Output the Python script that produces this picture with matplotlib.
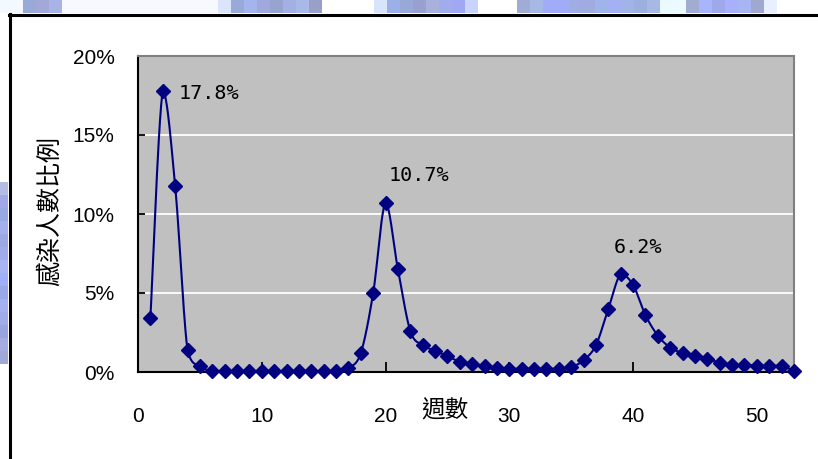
import matplotlib.pyplot as plt
import numpy as np
from matplotlib.lines import Line2D
from matplotlib.patches import Rectangle

# weekly share of infected people (%)
weeks = np.arange(1, 54)
ratio = [3.4, 17.8, 11.8, 1.4, 0.35, 0.08,
         0.05, 0.05, 0.05, 0.05, 0.05, 0.05, 0.05, 0.05, 0.05, 0.05,
         0.25, 1.2, 5.0, 10.7, 6.5, 2.6, 1.7, 1.35, 1.0, 0.65, 0.5, 0.4,
         0.25, 0.2, 0.2, 0.2, 0.2, 0.2, 0.3, 0.75, 1.7, 4.0, 6.2, 5.5,
         3.6, 2.3, 1.55, 1.2, 1.0, 0.8, 0.6, 0.45, 0.45, 0.4, 0.4, 0.4, 0.05]
peak_weeks = [2, 20, 39]
x_ticks = [0, 10, 20, 30, 40, 50]
y_ticks = [0, 5, 10, 15, 20]
x_title = "週數"
y_title = "感染人數比例"

# slide decoration strips
top_cells = (["#F4F8FF", "#9AAAD8", "#A3A8D8", "#A8B4E6"] + ["#F6FAFF"] * 12 +
             ["#DCE4FC", "#9AAAD8", "#A4B4EC", "#A0A8E0", "#98A4D0", "#A4B0E4",
              "#A8B8E8", "#98A0C8"] + ["#FFFFFF"] * 4 +
             ["#D8E4FC", "#9AB0E8", "#98A8D8", "#98A0D0", "#A8B0DC", "#A0ACEC",
              "#A0A8F4", "#C8D4FC"] + ["#FFFFFF"] * 3 +
             ["#A0ACD4", "#A8B8E4", "#A0ACF8", "#A0ACF8", "#A0ACE4", "#A0ACE0",
              "#A0B4EC", "#A4B0F4", "#A0B4E8", "#9CB0E0", "#A8B8E4", "#EAFAFF",
              "#EAFAFF", "#A0ACD0", "#A8B4FC", "#A0A8EC", "#A8B0FC", "#A8B4F4",
              "#A0A8D0", "#E8F0FF"])
left_cells = ["#B4BCE4", "#A0A8E8", "#98A8E0", "#A4B0EC", "#9CA8E0", "#A0ACE8",
              "#A8B4F4", "#A0B0F8", "#98A8E8", "#A4B0F0", "#A0ACE8", "#98A4E0",
              "#A4ACE0", "#A0A8D8"]

W, H = 818, 459
fig = plt.figure(figsize=(W / 100, H / 100), dpi=100)
fig.patch.set_facecolor("white")


def px(x, y):
    return x / W, 1 - y / H


for i, c in enumerate(top_cells):
    x0, y0 = px(10 + 13 * i - (10 if i == 0 else 0), 13)
    w = 23 if i == 0 else 13
    fig.add_artist(Rectangle((x0, y0), w / W, 13 / H, transform=fig.transFigure,
                             facecolor=c, edgecolor="none"))
for i, c in enumerate(left_cells):
    x0, y0 = px(0, 182 + 13 * (i + 1))
    fig.add_artist(Rectangle((x0, y0), 8 / W, 13 / H, transform=fig.transFigure,
                             facecolor=c, edgecolor="none"))

# black frame of the slide box
fig.add_artist(Line2D([px(10, 0)[0], px(10, 0)[0]], [px(0, 14)[1], 0],
                      transform=fig.transFigure, color="black", lw=2.2))
fig.add_artist(Line2D([px(9, 0)[0], 1], [px(0, 14.5)[1]] * 2,
                      transform=fig.transFigure, color="black", lw=2.2))

l, r, t, b = 138, 794, 56, 372
ax = fig.add_axes([l / W, 1 - b / H, (r - l) / W, (b - t) / H])
ax.set_facecolor("#C0C0C0")
ax.set_xlim(0, 53)
ax.set_ylim(0, 20)

for v in y_ticks[1:-1]:
    ax.axhline(v, color="white", lw=1.3, zorder=1)

for side in ("left", "bottom"):
    ax.spines[side].set_color("black")
    ax.spines[side].set_linewidth(1.5)
for side in ("top", "right"):
    ax.spines[side].set_color("#808080")
    ax.spines[side].set_linewidth(1.5)

tick_font = dict(family=["Liberation Sans"], size=15)
ax.set_xticks(x_ticks)
ax.set_xticklabels([str(v) for v in x_ticks], fontdict=tick_font)
ax.set_yticks(y_ticks)
ax.set_yticklabels([f"{v}%" for v in y_ticks], fontdict=tick_font)
ax.tick_params(axis="x", direction="in", length=7, width=1.3, pad=25)
ax.tick_params(axis="y", direction="in", length=5, width=1.3, pad=17)

# smoothed line: cardinal bezier through the points in screen space,
# control points kept inside each segment's vertical range (no dips)
pts = ax.transData.transform(np.column_stack([weeks, ratio]))
curve = []
tt = np.linspace(0, 1, 25)[:, None]
for i in range(len(pts) - 1):
    p0 = pts[max(i - 1, 0)]
    p1 = pts[i]
    p2 = pts[i + 1]
    p3 = pts[min(i + 2, len(pts) - 1)]
    c1 = p1 + (p2 - p0) / 6
    c2 = p2 - (p3 - p1) / 6
    lo, hi = min(p1[1], p2[1]), max(p1[1], p2[1])
    c1[1] = np.clip(c1[1], lo, hi)
    c2[1] = np.clip(c2[1], lo, hi)
    seg = ((1 - tt) ** 3 * p1 + 3 * (1 - tt) ** 2 * tt * c1 +
           3 * (1 - tt) * tt ** 2 * c2 + tt ** 3 * p2)
    curve.append(seg)
curve = ax.transData.inverted().transform(np.vstack(curve))
ax.plot(curve[:, 0], curve[:, 1], color="#000080", lw=1.5, zorder=3,
        clip_on=False)
ax.plot(weeks, ratio, linestyle="none", marker="D", markersize=7.5,
        color="#000080", zorder=4, clip_on=False)

offsets = {2: (16, -3), 20: (3, 27), 39: (-7, 27)}
for w in peak_weeks:
    v = ratio[w - 1]
    ax.annotate(f"{v}%", (w, v), xytext=offsets[w], textcoords="offset pixels",
                ha="left", va="center", fontsize=14.5,
                family="DejaVu Sans Mono", zorder=5)

cjk = ["Noto Sans CJK TC", "DejaVu Sans"]
fig.text(*px(445, 411), x_title, ha="center", va="center", fontsize=17,
         family=cjk)
fig.text(*px(50, 211), y_title, ha="center", va="center", fontsize=18,
         rotation=90, family=cjk)

fig.savefig("out.png", dpi=100)
